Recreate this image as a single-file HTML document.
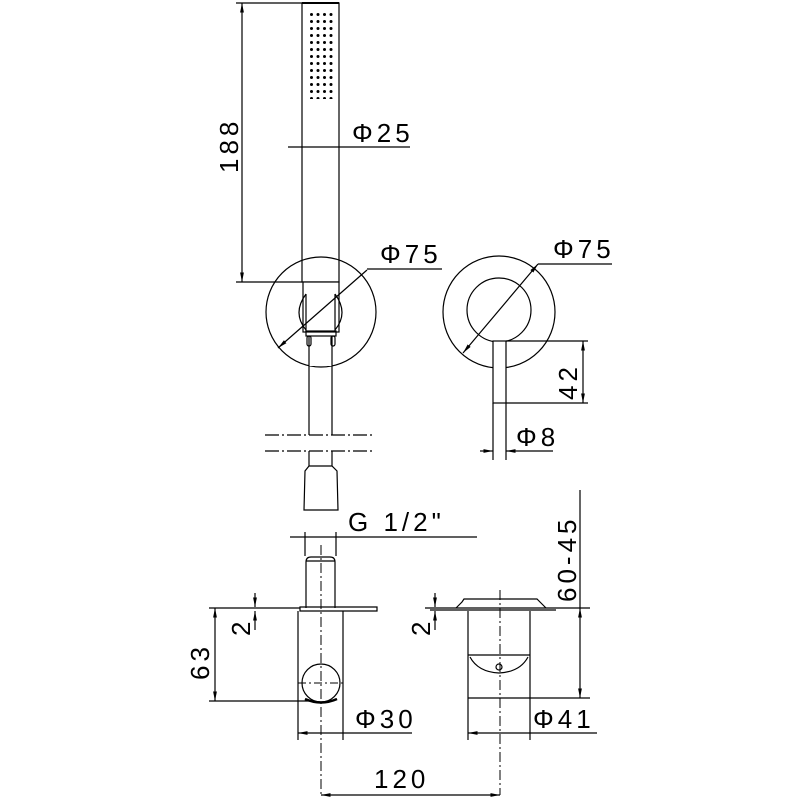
<!DOCTYPE html>
<html><head><style>html,body{margin:0;padding:0;background:#fff}svg{display:block}
text{font-family:"Liberation Sans",sans-serif;fill:#000}</style></head><body>
<svg width="800" height="800" viewBox="0 0 800 800" xmlns="http://www.w3.org/2000/svg">
<defs>
<marker id="a" viewBox="0 0 10 10" refX="10" refY="5" markerWidth="8" markerHeight="8" orient="auto-start-reverse"><path d="M0,3 L10,5 L0,7z" fill="#000"/></marker>
<pattern id="dots" x="309" y="12" width="6.5" height="7" patternUnits="userSpaceOnUse"><circle cx="2.5" cy="2.5" r="1.5" fill="#000"/></pattern>
</defs>
<g fill="none" stroke="#000" stroke-width="1.2">
<rect x="302" y="3" width="37" height="279"/>
<line x1="302" y1="3" x2="339" y2="3" stroke-width="2"/>
<rect x="308" y="11" width="27" height="88" fill="url(#dots)" stroke="none"/>
<line x1="242" y1="3" x2="242" y2="282" marker-start="url(#a)" marker-end="url(#a)"/>
<line x1="236" y1="282" x2="302" y2="282"/>
<line x1="236" y1="3" x2="302" y2="3"/>
<line x1="288" y1="147" x2="410" y2="147"/>
<circle cx="321" cy="312" r="55"/>
<rect x="303" y="282" width="36" height="50" fill="#fff"/>
<rect x="309" y="336" width="23" height="30" fill="#fff" stroke="none"/>
<line x1="306" y1="294" x2="306" y2="332"/><line x1="335" y1="294" x2="335" y2="332"/>
<path d="M306,294 Q292,313 306,330"/><path d="M335,294 Q349,313 335,330"/>
<rect x="306" y="331" width="30" height="5"/>
<rect x="307" y="336" width="4" height="10" rx="2"/><rect x="331" y="336" width="4" height="10" rx="2"/>
<line x1="309" y1="336" x2="309" y2="435"/><line x1="332" y1="336" x2="332" y2="435"/>
<line x1="265" y1="435" x2="372" y2="435" stroke-dasharray="14,3,2,3"/>
<line x1="265" y1="451" x2="372" y2="451" stroke-dasharray="14,3,2,3"/>
<line x1="309" y1="451" x2="309" y2="466"/><line x1="332" y1="451" x2="332" y2="466"/>
<path d="M309,466 L332,466 L337,471 L338,510 L304,510 L305,471z"/>
<line x1="278" y1="348" x2="367" y2="270" marker-start="url(#a)"/>
<line x1="367" y1="269" x2="442" y2="269"/>
<circle cx="499" cy="312" r="56"/>
<circle cx="499" cy="310" r="32"/>
<rect x="493" y="341" width="13" height="62" fill="#fff"/>
<line x1="493" y1="403" x2="493" y2="460"/><line x1="506" y1="403" x2="506" y2="460"/>
<line x1="463" y1="353" x2="538" y2="264" marker-start="url(#a)" marker-end="url(#a)"/>
<line x1="538" y1="264" x2="612" y2="264"/>
<line x1="506" y1="341" x2="588" y2="341"/><line x1="506" y1="403" x2="588" y2="403"/>
<line x1="583" y1="341" x2="583" y2="403" marker-start="url(#a)" marker-end="url(#a)"/>
<line x1="480" y1="451" x2="493" y2="451" marker-end="url(#a)"/>
<line x1="506" y1="451" x2="553" y2="451" marker-start="url(#a)"/>
<line x1="290" y1="537" x2="477" y2="537"/>
<line x1="305" y1="532" x2="305" y2="556"/><line x1="336" y1="532" x2="336" y2="556"/>
<path d="M306,608 L306,562 Q306,557 311,557 L330,557 Q335,557 335,562 L335,608"/>
<line x1="306" y1="561" x2="335" y2="561"/>
<line x1="321" y1="545" x2="321" y2="795" stroke-dasharray="10,3,2,3" stroke-width="1"/>
<line x1="209" y1="608" x2="300" y2="608"/>
<path d="M300,607 L377,607 L377,611 L300,611z"/>
<line x1="298" y1="611" x2="298" y2="740"/><line x1="343" y1="611" x2="343" y2="740"/>
<circle cx="321" cy="683" r="19"/>
<line x1="298" y1="683" x2="346" y2="683" stroke-dasharray="8,3,2,3" stroke-width="1"/>
<path d="M305,699 Q321,706 337,699" stroke-width="2.5"/>
<line x1="209" y1="701" x2="310" y2="701"/>
<line x1="215" y1="608" x2="215" y2="701" marker-start="url(#a)" marker-end="url(#a)"/>
<line x1="255" y1="593" x2="255" y2="607" marker-end="url(#a)"/>
<line x1="255" y1="611" x2="255" y2="630" marker-start="url(#a)"/>
<line x1="298" y1="733" x2="412" y2="733" marker-start="url(#a)"/>
<line x1="321" y1="795" x2="500" y2="795" marker-start="url(#a)" marker-end="url(#a)"/>
<line x1="425" y1="608" x2="590" y2="608"/>
<path d="M456,608 L462,602 L464,599 L537,599 L540,602 L546,608" />
<line x1="430" y1="610" x2="556" y2="610"/>
<line x1="468" y1="611" x2="468" y2="740"/><line x1="530" y1="611" x2="530" y2="740"/>
<line x1="468" y1="655" x2="530" y2="655"/>
<path d="M470,657 Q478,672 499,673 Q520,672 528,657"/>
<circle cx="499" cy="667" r="3"/>
<line x1="500" y1="590" x2="500" y2="795" stroke-dasharray="10,3,2,3" stroke-width="1"/>
<line x1="468" y1="698" x2="590" y2="698"/>
<line x1="580" y1="490" x2="580" y2="608"/>
<line x1="580" y1="608" x2="580" y2="698" marker-start="url(#a)" marker-end="url(#a)"/>
<line x1="435" y1="593" x2="435" y2="607" marker-end="url(#a)"/>
<line x1="435" y1="611" x2="435" y2="630" marker-start="url(#a)"/>
<line x1="468" y1="733" x2="597" y2="733" marker-start="url(#a)"/>
</g>
<g font-size="26" letter-spacing="4">
<text x="352" y="142">Φ25</text>
<text x="380" y="263">Φ75</text>
<text x="553" y="258">Φ75</text>
<text x="516" y="446">Φ8</text>
<text x="348" y="531">G  1/2"</text>
<text x="355" y="728">Φ30</text>
<text x="533" y="728">Φ41</text>
<text x="374" y="788">120</text>
<text transform="translate(238,173) rotate(-90)">188</text>
<text transform="translate(577,400) rotate(-90)">42</text>
<text transform="translate(209,680) rotate(-90)">63</text>
<text transform="translate(250,636) rotate(-90)">2</text>
<text transform="translate(430,636) rotate(-90)">2</text>
<text transform="translate(576,602) rotate(-90)">60-45</text>
</g>
</svg>
</body></html>
